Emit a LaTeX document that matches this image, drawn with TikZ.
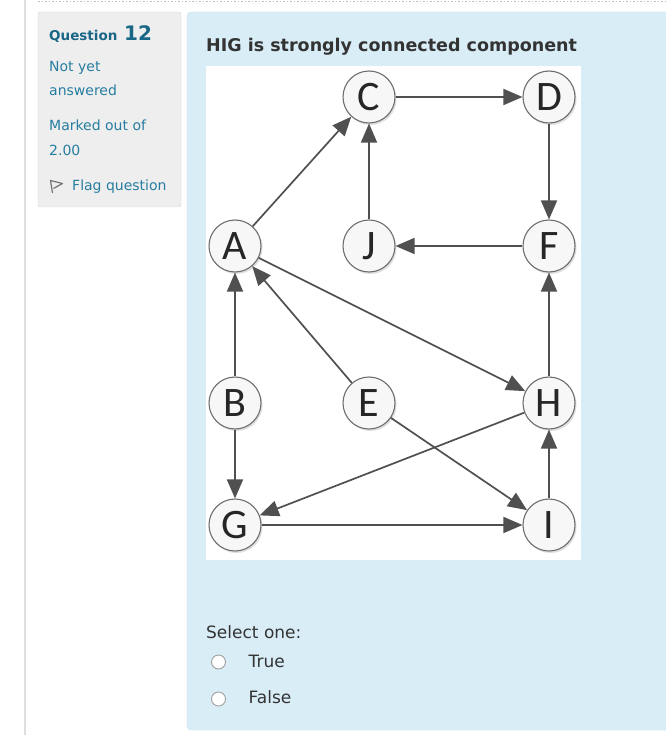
\documentclass[tikz,border=0pt]{standalone}
\usepackage{fontspec}
\setmainfont{DejaVu Sans}
\newfontfamily\labelfont{Carlito}
\usetikzlibrary{arrows.meta,shadows}
\definecolor{panelblue}{RGB}{217,237,247}
\definecolor{panelline}{RGB}{196,228,243}
\definecolor{infogray}{RGB}{238,238,238}
\definecolor{infoline}{RGB}{216,216,216}
\definecolor{sideblue}{RGB}{38,125,160}
\definecolor{qblue}{RGB}{26,102,134}
\definecolor{titlegray}{RGB}{51,51,51}
\definecolor{edgegray}{RGB}{80,80,80}
\definecolor{vertexline}{RGB}{110,110,110}
\definecolor{vertexfill}{RGB}{247,247,247}

\begin{document}
\begin{tikzpicture}[x = 1pt, y = -1pt,
    vertex/.style = {shape = circle, draw = vertexline, fill = vertexfill, line width = 1.1pt,
        minimum size = 52pt, inner sep = 0pt, text = black!85,
        font = \labelfont\fontsize{42}{42}\selectfont,
        drop shadow = {shadow xshift = 1.5pt, shadow yshift = -2pt, opacity = 0.25}},
    edge/.style = {draw = edgegray, line width = 1.7pt, -{Triangle[length = 19pt, width = 16pt]}},
    sidetext/.style = {anchor = base west, inner sep = 0pt, text = sideblue, font = \fontsize{14}{16}\selectfont},
    formtext/.style = {anchor = base west, inner sep = 0pt, text = titlegray, font = \fontsize{17}{20}\selectfont},
    radio/.style = {draw = gray!75, fill = white, line width = 0.9pt}]
    \useasboundingbox (0,0) rectangle (665,735);
    \fill[white] (0,0) rectangle (665,735);
    % page frame
    \draw[black!13, line width = 1.5pt] (25,0) -- (25,735);
    \draw[black!25, line width = 1.5pt, dotted] (38,1.5) -- (665,1.5);
    % info block
    \draw[draw = infoline, fill = infogray, rounded corners = 2pt] (38,12) rectangle (181,207);
    \node[anchor = base west, inner sep = 0pt, text = qblue, font = \bfseries\fontsize{13.5}{16}\selectfont] (qword) at (49,40.5) {Question};
    \node[anchor = base west, inner sep = 0pt, text = qblue, font = \bfseries\fontsize{20}{22}\selectfont] (qnum) at (124,40.5) {12};
    \node[sidetext] (state1) at (49,71.5) {Not yet};
    \node[sidetext] (state2) at (49,96) {answered};
    \node[sidetext] (mark1) at (49,131) {Marked out of};
    \node[sidetext] (mark2) at (49,156) {2.00};
    \node[sidetext] (flag) at (72,191) {Flag question};
    \draw[black!55, line width = 1.2pt, line join = round] (52.5,193) -- (50.5,180.5) -- (62.5,183.5) -- (53.5,188.5);
    % question block
    \draw[draw = panelline, fill = panelblue, rounded corners = 4pt] (187,12) rectangle (680,730);
    \node[anchor = base west, inner sep = 0pt, text = titlegray, font = \bfseries\fontsize{17.5}{20}\selectfont] (title) at (206,51.5) {HIG is strongly connected component};
    \fill[white] (206,66) rectangle (581,560);
    % graph
    \node[vertex] (C) at (369,97) {C};
    \node[vertex] (D) at (549,97) {D};
    \node[vertex] (A) at (235,246) {A};
    \node[vertex] (J) at (369,246) {J};
    \node[vertex] (F) at (549,246) {F};
    \node[vertex] (B) at (235,403) {B};
    \node[vertex] (E) at (369,403) {E};
    \node[vertex] (H) at (549,403) {H};
    \node[vertex] (G) at (235,525) {G};
    \node[vertex] (I) at (549,525) {I};
    \draw[edge] (A) -- (C);
    \draw[edge] (J) -- (C);
    \draw[edge] (C) -- (D);
    \draw[edge] (D) -- (F);
    \draw[edge] (F) -- (J);
    \draw[edge] (A) -- (H);
    \draw[edge] (E) -- (A);
    \draw[edge] (B) -- (A);
    \draw[edge] (B) -- (G);
    \draw[edge] (H) -- (F);
    \draw[edge] (H) -- (G);
    \draw[edge] (E) -- (I);
    \draw[edge] (G) -- (I);
    \draw[edge] (I) -- (H);
    % answers
    \node[formtext] (select) at (206,638.5) {Select one:};
    \draw[radio] (218.5,662) circle (7);
    \node[formtext] (optT) at (248.5,667) {True};
    \draw[radio] (218.5,699) circle (7);
    \node[formtext] (optF) at (248.5,703) {False};
\end{tikzpicture}
\end{document}
